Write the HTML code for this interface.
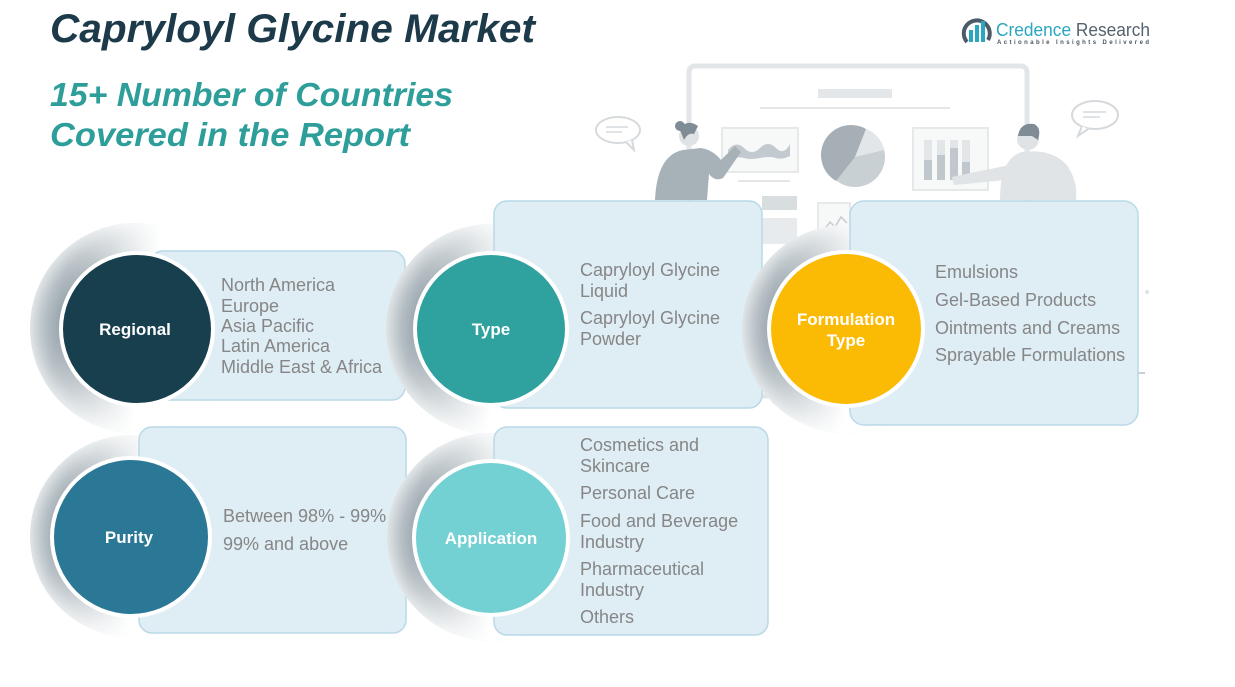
<!DOCTYPE html>
<html><head><meta charset="utf-8"><style>
html,body{margin:0;padding:0;background:#fff;}
svg{display:block;}
</style></head><body>
<svg width="1235" height="687" viewBox="0 0 1235 687" xmlns="http://www.w3.org/2000/svg" font-family="'Liberation Sans', sans-serif">
<defs>
<radialGradient id="rad" cx="0.5" cy="0.5" r="0.5">
<stop offset="0.68" stop-color="#86959e"/>
<stop offset="0.85" stop-color="#aeb8be"/>
<stop offset="1" stop-color="#dfe4e6"/>
</radialGradient>
<linearGradient id="lin" x1="0" y1="0" x2="1" y2="0.15">
<stop offset="0" stop-color="#fff" stop-opacity="0"/>
<stop offset="0.2" stop-color="#fff" stop-opacity="0.1"/>
<stop offset="0.45" stop-color="#fff" stop-opacity="0.7"/>
<stop offset="0.62" stop-color="#fff" stop-opacity="1"/>
</linearGradient>
</defs>

<!-- background illustration -->
<g>
<rect x="689" y="66" width="338" height="330" rx="6" fill="none" stroke="#e3e6e8" stroke-width="5"/>
<rect x="818" y="89" width="74" height="9" fill="#e4e7e9"/>
<line x1="760" y1="108" x2="950" y2="108" stroke="#e4e7e9" stroke-width="2"/>
<rect x="722" y="128" width="76" height="44" fill="#f7f8f8" stroke="#e6e8ea" stroke-width="2"/>
<path d="M728 150 q8 -10 16 -2 t16 0 t16 0 t14 -4 v12 q-8 4 -14 2 t-16 0 t-16 0 t-16 2 z" fill="#c3cacf"/>
<line x1="738" y1="181" x2="790" y2="181" stroke="#e3e6e8" stroke-width="2"/>
<circle cx="855" cy="157" r="30" fill="#c9d0d4"/>
<path d="M855 157 L866 129 A30 30 0 0 0 836 181 Z" fill="#a5afb5"/>
<path d="M855 157 L866 129 A30 30 0 0 1 884 150 Z" fill="#e3e6e8"/>
<rect x="913" y="128" width="75" height="62" fill="#f7f8f8" stroke="#e6e8ea" stroke-width="2"/>
<rect x="924" y="140" width="8" height="40" fill="#e3e6e8"/>
<rect x="924" y="160" width="8" height="20" fill="#c0c8cd"/>
<rect x="937" y="140" width="8" height="40" fill="#e3e6e8"/>
<rect x="937" y="155" width="8" height="25" fill="#c0c8cd"/>
<rect x="950" y="140" width="8" height="40" fill="#e3e6e8"/>
<rect x="950" y="148" width="8" height="32" fill="#c0c8cd"/>
<rect x="962" y="140" width="8" height="40" fill="#e3e6e8"/>
<rect x="962" y="162" width="8" height="18" fill="#c0c8cd"/>
<rect x="762" y="196" width="35" height="14" fill="#d8dde0"/>
<rect x="762" y="218" width="35" height="26" fill="#e8ebed"/>
<rect x="818" y="203" width="32" height="42" fill="#f7f8f8" stroke="#e6e8ea" stroke-width="2"/>
<path d="M824 230 l6 -8 l5 5 l6 -10 l6 6" fill="none" stroke="#c6cdd1" stroke-width="1.5"/>
<!-- left person -->
<path d="M655 200 q2 -45 28 -50 l18 -2 q12 2 20 12 l14 -14 l6 6 l-18 26 q-8 4 -14 -4 l-2 26 z" fill="#a7b1b8"/>
<circle cx="689" cy="136" r="10" fill="#dfe3e6"/>
<path d="M680 130 q6 -12 18 -4 l-4 8 q-6 -2 -10 6 z" fill="#7f8c95"/>
<circle cx="680" cy="126" r="5" fill="#7f8c95"/>
<!-- right person -->
<path d="M1000 200 q0 -42 22 -48 q28 -4 44 12 q12 16 10 36 z" fill="#e1e4e6"/>
<path d="M1010 165 l-40 8 l-18 4 l2 8 l22 -2 l40 -4 z" fill="#e1e4e6"/>
<circle cx="1028" cy="139" r="11" fill="#dfe3e6"/>
<path d="M1018 136 q2 -14 16 -12 q8 4 4 16 l-6 -4 z" fill="#7f8c95"/>
<!-- speech bubbles -->
<ellipse cx="618" cy="130" rx="22" ry="13" fill="#fff" stroke="#d6dadd" stroke-width="2"/>
<path d="M626 142 l8 8 l-2 -10" fill="#fff" stroke="#d6dadd" stroke-width="2"/>
<line x1="606" y1="127" x2="628" y2="127" stroke="#d6dadd" stroke-width="1.5"/>
<line x1="606" y1="132" x2="622" y2="132" stroke="#d6dadd" stroke-width="1.5"/>
<ellipse cx="1095" cy="115" rx="23" ry="14" fill="#fff" stroke="#d6dadd" stroke-width="2"/>
<path d="M1082 126 l-4 10 l10 -7" fill="#fff" stroke="#d6dadd" stroke-width="2"/>
<line x1="1083" y1="112" x2="1106" y2="112" stroke="#d6dadd" stroke-width="1.5"/>
<line x1="1083" y1="117" x2="1100" y2="117" stroke="#d6dadd" stroke-width="1.5"/>
<line x1="1130" y1="373" x2="1145" y2="373" stroke="#c9cfd3" stroke-width="2"/>
<circle cx="1147" cy="292" r="2" fill="#dfe3e6"/>
</g>

<!-- Title -->
<text x="50" y="42" font-size="40" font-weight="bold" font-style="italic" fill="#1c3a49" textLength="485" lengthAdjust="spacingAndGlyphs">Capryloyl Glycine Market</text>
<text x="50" y="106" font-size="33" font-weight="bold" font-style="italic" fill="#2e9e9a" textLength="403" lengthAdjust="spacingAndGlyphs">15+ Number of Countries</text>
<text x="50" y="146" font-size="33" font-weight="bold" font-style="italic" fill="#2e9e9a" textLength="360" lengthAdjust="spacingAndGlyphs">Covered in the Report</text>

<!-- Logo -->
<g>
<path d="M967 42 A13 13 0 1 1 988 40" fill="none" stroke="#4d5b66" stroke-width="4"/>
<rect x="969" y="30" width="4" height="12" fill="#2aa6c0"/>
<rect x="975" y="25" width="4" height="17" fill="#2aa6c0"/>
<rect x="981" y="21" width="4" height="21" fill="#2aa6c0"/>
<text x="996" y="36" font-size="18" textLength="154" lengthAdjust="spacingAndGlyphs"><tspan fill="#2aa6c0">Credence</tspan><tspan fill="#56626c"> Research</tspan></text>
<text x="997" y="44" font-size="6" fill="#4a5560" textLength="152" lengthAdjust="spacing" font-weight="bold">Actionable Insights Delivered</text>
</g>

<!-- Regional -->
<circle cx="135" cy="328" r="105" fill="url(#rad)"/>
<circle cx="135" cy="328" r="105" fill="url(#lin)"/>
<rect x="150" y="251" width="255" height="149" rx="13" fill="#dfedf5" stroke="#b9d9e6" stroke-width="1.5"/>
<circle cx="137" cy="329" r="78" fill="#fff"/>
<circle cx="137" cy="329" r="74" fill="#173f4e"/>
<text x="135" y="335" font-size="17" font-weight="bold" fill="#fff" text-anchor="middle">Regional</text>
<g font-size="18" fill="#868686">
<text x="221" y="291">North America</text>
<text x="221" y="312">Europe</text>
<text x="221" y="332">Asia Pacific</text>
<text x="221" y="352">Latin America</text>
<text x="221" y="373">Middle East &amp; Africa</text>
</g>

<!-- Type -->
<circle cx="491" cy="329" r="105" fill="url(#rad)"/>
<circle cx="491" cy="329" r="105" fill="url(#lin)"/>
<rect x="494" y="201" width="268" height="207" rx="13" fill="#dfedf5" stroke="#b9d9e6" stroke-width="1.5"/>
<circle cx="491" cy="329" r="78" fill="#fff"/>
<circle cx="491" cy="329" r="74" fill="#2fa19f"/>
<text x="491" y="335" font-size="17" font-weight="bold" fill="#fff" text-anchor="middle">Type</text>
<g font-size="18" fill="#868686">
<text x="580" y="276">Capryloyl Glycine</text>
<text x="580" y="297">Liquid</text>
<text x="580" y="324">Capryloyl Glycine</text>
<text x="580" y="345">Powder</text>
</g>

<!-- Formulation Type -->
<circle cx="846" cy="329" r="104" fill="url(#rad)"/>
<circle cx="846" cy="329" r="104" fill="url(#lin)"/>
<rect x="850" y="201" width="288" height="224" rx="14" fill="#dfedf5" stroke="#b9d9e6" stroke-width="1.5"/>
<circle cx="846" cy="329" r="79" fill="#fff"/>
<circle cx="846" cy="329" r="75" fill="#fbbb05"/>
<text x="846" y="325" font-size="17" font-weight="bold" fill="#fff" text-anchor="middle">Formulation</text>
<text x="846" y="346" font-size="17" font-weight="bold" fill="#fff" text-anchor="middle">Type</text>
<g font-size="18" fill="#868686">
<text x="935" y="278">Emulsions</text>
<text x="935" y="306">Gel-Based Products</text>
<text x="935" y="334">Ointments and Creams</text>
<text x="935" y="361">Sprayable Formulations</text>
</g>

<!-- Purity -->
<circle cx="131" cy="536" r="101" fill="url(#rad)"/>
<circle cx="131" cy="536" r="101" fill="url(#lin)"/>
<rect x="139" y="427" width="267" height="206" rx="13" fill="#dfedf5" stroke="#b9d9e6" stroke-width="1.5"/>
<circle cx="131" cy="537" r="81" fill="#fff"/>
<circle cx="131" cy="537" r="77" fill="#2b7896"/>
<text x="129" y="543" font-size="17" font-weight="bold" fill="#fff" text-anchor="middle">Purity</text>
<g font-size="18" fill="#868686">
<text x="223" y="522">Between 98% - 99%</text>
<text x="223" y="550">99% and above</text>
</g>

<!-- Application -->
<circle cx="491" cy="537" r="104" fill="url(#rad)"/>
<circle cx="491" cy="537" r="104" fill="url(#lin)"/>
<rect x="494" y="427" width="274" height="208" rx="13" fill="#dfedf5" stroke="#b9d9e6" stroke-width="1.5"/>
<circle cx="491" cy="538" r="79" fill="#fff"/>
<circle cx="491" cy="538" r="75" fill="#73d0d3"/>
<text x="491" y="544" font-size="17" font-weight="bold" fill="#fff" text-anchor="middle">Application</text>
<g font-size="18" fill="#868686">
<text x="580" y="451">Cosmetics and</text>
<text x="580" y="472">Skincare</text>
<text x="580" y="499">Personal Care</text>
<text x="580" y="527">Food and Beverage</text>
<text x="580" y="548">Industry</text>
<text x="580" y="575">Pharmaceutical</text>
<text x="580" y="596">Industry</text>
<text x="580" y="623">Others</text>
</g>
</svg>
</body></html>
